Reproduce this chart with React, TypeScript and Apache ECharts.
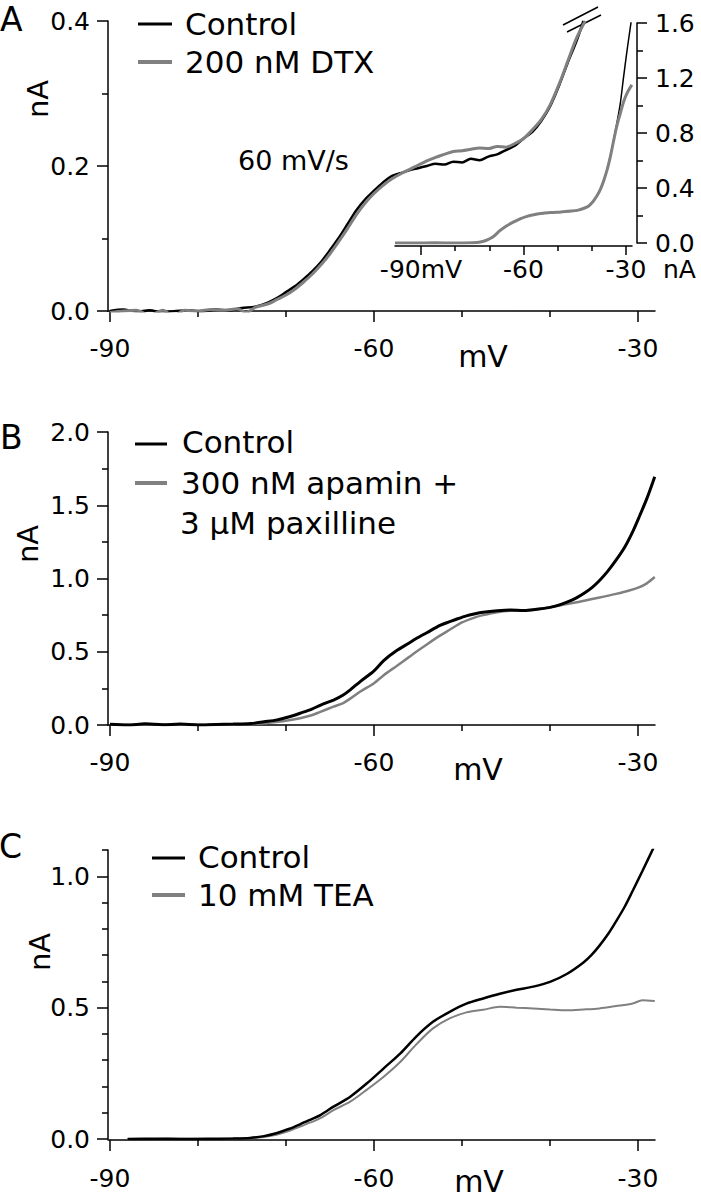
import React, { useEffect, useRef } from "react";
import * as echarts from "echarts";

// ---------- data (mV, nA) ----------
const A_CONTROL: [number, number][] = [
  [-90.0, 0.0], [-88.5, 0.002], [-87, -0.001], [-85.5, 0.001], [-84, -0.002], [-82.5, 0.0], [-81, 0.001],
  [-79.5, -0.001], [-78, 0.002], [-76.5, 0.001], [-75, 0.004], [-73.5, 0.006], [-72, 0.012], [-71, 0.018],
  [-70, 0.026], [-69, 0.034], [-68, 0.044], [-67, 0.055], [-66, 0.068], [-65, 0.084], [-64, 0.101],
  [-63, 0.12], [-62, 0.139], [-61, 0.154], [-60, 0.166], [-59, 0.177], [-58, 0.186], [-57, 0.19],
  [-56, 0.194], [-55, 0.197], [-54, 0.2], [-53, 0.203], [-52, 0.202], [-51, 0.206], [-50, 0.205],
  [-49, 0.21], [-48, 0.208], [-47, 0.213], [-46, 0.216], [-45, 0.222], [-44, 0.228], [-43, 0.238],
  [-42, 0.247], [-41, 0.262], [-40, 0.282], [-39, 0.31], [-38, 0.342], [-37, 0.372], [-36.2, 0.4],
];
const A_DTX: [number, number][] = [
  [-90.0, -0.002], [-88.5, 0.0], [-87, 0.001], [-85.5, -0.006], [-84, 0.001], [-82.8, -0.007], [-81.5, 0.001],
  [-80, 0.0], [-78.5, 0.002], [-77, 0.001], [-75.5, 0.003], [-74.5, -0.002], [-73.5, 0.005], [-72, 0.01],
  [-71, 0.016], [-70, 0.022], [-69, 0.03], [-68, 0.04], [-67, 0.051], [-66, 0.064], [-65, 0.079],
  [-64, 0.096], [-63, 0.114], [-62, 0.133], [-61, 0.149], [-60, 0.162], [-59, 0.173], [-58, 0.182],
  [-57, 0.189], [-56, 0.195], [-55, 0.201], [-54, 0.207], [-53, 0.212], [-52, 0.216], [-51, 0.22],
  [-50, 0.221], [-49, 0.223], [-48, 0.225], [-47, 0.224], [-46, 0.227], [-45, 0.226], [-44, 0.231],
  [-43, 0.238], [-42, 0.25], [-41, 0.264], [-40, 0.284], [-39, 0.312], [-38, 0.344], [-37, 0.376], [-36.0, 0.4],
];
const INSET_CONTROL: [number, number][] = [
  [-97.6, 0.0], [-92, 0.001], [-86, 0.0], [-80, 0.001], [-75, 0.002], [-73, 0.006], [-71, 0.02], [-69, 0.045],
  [-67, 0.09], [-65, 0.125], [-63, 0.152], [-61, 0.176], [-59, 0.193], [-57, 0.205], [-55, 0.213],
  [-52, 0.22], [-49, 0.225], [-46, 0.231], [-44, 0.238], [-42.5, 0.25], [-41, 0.268], [-39.7, 0.3],
  [-38.5, 0.345], [-37.5, 0.395], [-36.5, 0.46], [-35.5, 0.54], [-34.7, 0.62], [-33.7, 0.74],
  [-32.7, 0.87], [-31.7, 1.01], [-30.8, 1.19], [-29.7, 1.4], [-28.5, 1.61],
];
const INSET_DTX: [number, number][] = [
  [-97.6, 0.0], [-92, 0.0], [-86, 0.001], [-80, 0.0], [-75, 0.002], [-73, 0.005], [-71, 0.018], [-69, 0.043],
  [-67, 0.088], [-65, 0.124], [-63, 0.152], [-61, 0.176], [-59, 0.194], [-57, 0.206], [-55, 0.214],
  [-52, 0.221], [-49, 0.226], [-46, 0.232], [-44, 0.239], [-42.5, 0.251], [-41, 0.268], [-39.7, 0.3],
  [-38.5, 0.343], [-37.5, 0.39], [-36.5, 0.455], [-35.5, 0.535], [-34.7, 0.615], [-33.7, 0.735],
  [-32.7, 0.85], [-31.7, 0.94], [-30.8, 1.02], [-29.7, 1.09], [-28.3, 1.15],
];
const B_CONTROL: [number, number][] = [
  [-90, 0.005], [-88, 0.0], [-86, 0.008], [-84, 0.002], [-82, 0.006], [-80, 0.0], [-78, 0.004], [-76, 0.006],
  [-74, 0.01], [-72.5, 0.022], [-71, 0.035], [-69.5, 0.058], [-68.4, 0.08], [-67, 0.11], [-66, 0.138],
  [-64.6, 0.17], [-63.5, 0.205], [-62.7, 0.24], [-61.5, 0.3], [-60, 0.37], [-58.9, 0.44], [-57.5, 0.505],
  [-56, 0.56], [-55.2, 0.59], [-54, 0.63], [-52.5, 0.68], [-51.4, 0.705], [-50.5, 0.725], [-49.5, 0.745],
  [-48.5, 0.76], [-47.6, 0.77], [-46, 0.78], [-44.5, 0.785], [-43, 0.782], [-41.5, 0.79], [-40, 0.803],
  [-39, 0.818], [-38, 0.84], [-37, 0.868], [-36, 0.905], [-35.2, 0.94], [-34.4, 0.985], [-33.5, 1.045],
  [-32.5, 1.125], [-31.5, 1.215], [-30.6, 1.32], [-29.8, 1.43], [-29, 1.545], [-28.1, 1.695],
];
const B_DRUG: [number, number][] = [
  [-90, 0.003], [-88, 0.001], [-86, 0.004], [-84, 0.002], [-82, 0.003], [-80, 0.001], [-78, 0.003], [-76, 0.004],
  [-74, 0.006], [-72.5, 0.012], [-71.1, 0.02], [-69.5, 0.034], [-68.4, 0.046], [-67, 0.068], [-66.1, 0.09],
  [-64.6, 0.125], [-63.5, 0.15], [-62.7, 0.18], [-61.5, 0.23], [-60, 0.285], [-58.9, 0.34], [-57.5, 0.4],
  [-56, 0.465], [-55.2, 0.5], [-54, 0.55], [-52.5, 0.61], [-51.4, 0.65], [-50, 0.7], [-48.5, 0.735],
  [-47.6, 0.75], [-46, 0.77], [-44.5, 0.78], [-43, 0.782], [-41.5, 0.79], [-40, 0.803], [-38.9, 0.816],
  [-37.9, 0.828], [-36.1, 0.848], [-34.5, 0.868], [-32.5, 0.895], [-31, 0.918], [-29.9, 0.94], [-29, 0.967], [-28.1, 1.01],
];
const C_CONTROL: [number, number][] = [
  [-88, 0.0], [-85, 0.001], [-82, 0.0], [-79, 0.001], [-76, 0.002], [-74.1, 0.004], [-72.5, 0.011],
  [-71.1, 0.022], [-69.7, 0.038], [-68.4, 0.056], [-67.2, 0.074], [-66.1, 0.091], [-64.6, 0.123],
  [-62.7, 0.161], [-60.8, 0.212], [-58.9, 0.269], [-57.0, 0.326], [-55.2, 0.39], [-53.3, 0.446],
  [-51.4, 0.484], [-49.5, 0.515], [-47.6, 0.535], [-45.7, 0.553], [-43.8, 0.568], [-41.9, 0.58],
  [-40.0, 0.598], [-38.1, 0.628], [-36.2, 0.672], [-35.3, 0.7], [-34.4, 0.735], [-33.4, 0.78],
  [-32.5, 0.828], [-31.5, 0.885], [-30.6, 0.945], [-29.5, 1.02], [-28.1, 1.118],
];
const C_TEA: [number, number][] = [
  [-88, 0.0], [-85, 0.0], [-82, 0.001], [-79, 0.0], [-76, 0.002], [-74.1, 0.003], [-72.5, 0.008],
  [-71.1, 0.016], [-69.7, 0.03], [-68.4, 0.047], [-67.2, 0.063], [-66.1, 0.079], [-64.6, 0.11],
  [-62.7, 0.142], [-60.8, 0.188], [-58.9, 0.237], [-57.0, 0.294], [-55.2, 0.36], [-53.3, 0.421],
  [-51.4, 0.459], [-49.5, 0.482], [-47.6, 0.492], [-45.7, 0.503], [-43.8, 0.5], [-41.9, 0.497],
  [-40.0, 0.493], [-38.1, 0.49], [-36.2, 0.493], [-34.4, 0.497], [-32.5, 0.506], [-30.6, 0.516],
  [-29.5, 0.528], [-28.1, 0.525],
];

// ---------- tick values ----------
const X_MAJOR = [-90, -60, -30];
const X_MINOR = [-80, -70, -50, -40];
const YA_MAJOR = [0, 0.2, 0.4];
const YA_MINOR = [0.1, 0.3];
const YI_MAJOR = [0, 0.4, 0.8, 1.2, 1.6];
const YI_MINOR = [0.2, 0.6, 1.0, 1.4];
const YB_MAJOR = [0, 0.5, 1.0, 1.5, 2.0];
const YB_MINOR = [0.25, 0.75, 1.25, 1.75];
const YC_MAJOR = [0, 0.5, 1.0];
const YC_MINOR = [0.1, 0.2, 0.3, 0.4, 0.6, 0.7, 0.8, 0.9, 1.1];

const FONT = "DejaVu Sans";
const BLACK = "#000000";
const GRAY = "#808080";
const AX = { color: "#000", width: 1.5 };

function xAxes(grid: number, min: number, max: number, majLen: number, minLen: number, margin: number, offset: number, fmt?: (v: number) => string) {
  return [
    {
      type: "value", gridIndex: grid, position: "bottom", min, max, offset,
      axisLine: { show: true, onZero: false, lineStyle: AX },
      axisTick: { show: true, inside: false, length: majLen, customValues: X_MAJOR, lineStyle: AX },
      axisLabel: { show: true, customValues: X_MAJOR, margin, fontFamily: FONT, fontSize: 25, color: "#000", formatter: fmt || ((v: number) => String(v)) },
      splitLine: { show: false },
    },
    {
      type: "value", gridIndex: grid, position: "bottom", min, max, offset,
      axisLine: { show: false, onZero: false },
      axisTick: { show: true, inside: false, length: minLen, customValues: X_MINOR, lineStyle: AX },
      axisLabel: { show: false },
      splitLine: { show: false },
    },
  ];
}

function yAxes(grid: number, min: number, max: number, major: number[], minor: number[], pos: string, majLen: number, minLen: number, margin: number, offset: number) {
  return [
    {
      type: "value", gridIndex: grid, position: pos, min, max, offset,
      axisLine: { show: true, onZero: false, lineStyle: AX },
      axisTick: { show: true, inside: false, length: majLen, customValues: major, lineStyle: AX },
      axisLabel: { show: true, customValues: major, margin, fontFamily: FONT, fontSize: 25, color: "#000", formatter: (v: number) => v.toFixed(1) },
      splitLine: { show: false },
    },
    {
      type: "value", gridIndex: grid, position: pos, min, max, offset,
      axisLine: { show: false, onZero: false },
      axisTick: { show: true, inside: false, length: minLen, customValues: minor, lineStyle: AX },
      axisLabel: { show: false },
      splitLine: { show: false },
    },
  ];
}

function line(name: string, data: [number, number][], xi: number, yi: number, color: string, width: number) {
  return {
    type: "line", name, data, xAxisIndex: xi, yAxisIndex: yi, showSymbol: false, symbol: "none",
    smooth: 0.3, lineStyle: { color, width }, itemStyle: { color }, silent: true, clip: true,
  };
}

function txt(text: string, x: number, y: number, size: number, align = "left", rotation = 0) {
  return {
    type: "text", x, y, rotation,
    style: { text, fontFamily: FONT, fontSize: size, fill: "#000", align, verticalAlign: "middle" },
  };
}
function seg(x1: number, y1: number, x2: number, y2: number, color: string, w: number) {
  return { type: "line", shape: { x1, y1, x2, y2 }, style: { stroke: color, lineWidth: w } };
}

export default function App() {
  const ref = useRef<HTMLDivElement>(null);
  useEffect(() => {
    if (!ref.current) return;
    const chart = echarts.init(ref.current, null, { renderer: "svg" });
    const grids = [
      { left: 108, top: 21, width: 547, height: 290 },
      { left: 395, top: 23, width: 237, height: 220 },
      { left: 108, top: 432, width: 547, height: 293 },
      { left: 108, top: 850, width: 547, height: 289 },
    ].map((g) => ({ ...g, containLabel: false, outerBoundsMode: "none", show: false }));

    const xAxis = [
      ...xAxes(0, -90.227, -28.07, 11, 6, 25, 0),
      ...xAxes(1, -97.61, -28.25, 9, 5, 11, 3, (v: number) => (v === -90 ? "-90mV" : String(v))),
      ...xAxes(2, -90.227, -28.07, 11, 6, 25, 0),
      ...xAxes(3, -90.227, -28.07, 11, 6, 26, 1),
    ];
    const yAxis = [
      ...yAxes(0, 0, 0.4, YA_MAJOR, YA_MINOR, "left", 11, 6, 18, 0),
      ...yAxes(1, 0, 1.6, YI_MAJOR, YI_MINOR, "right", 10, 6, 18, 5),
      ...yAxes(2, 0, 2.0, YB_MAJOR, YB_MINOR, "left", 11, 6, 18, 0),
      ...yAxes(3, 0, 1.1, YC_MAJOR, YC_MINOR, "left", 11, 6, 18, 0),
    ];

    const series = [
      line("Control", A_CONTROL, 0, 0, BLACK, 2.5),
      line("200 nM DTX", A_DTX, 0, 0, GRAY, 3),
      line("Control (inset)", INSET_CONTROL, 2, 2, BLACK, 1.5),
      line("200 nM DTX (inset)", INSET_DTX, 2, 2, GRAY, 3),
      line("300 nM apamin + 3 µM paxilline", B_DRUG, 4, 4, GRAY, 2.5),
      line("Control", B_CONTROL, 4, 4, BLACK, 3),
      line("10 mM TEA", C_TEA, 6, 6, GRAY, 2),
      line("Control", C_CONTROL, 6, 6, BLACK, 2.5),
    ];

    const graphic = [
      // panel letters
      txt("A", 0, 19, 33),
      txt("B", 0, 437, 33),
      txt("C", -1, 846, 33),
      // y titles
      txt("nA", 38, 99, 29, "center", Math.PI / 2),
      txt("nA", 28, 544, 29, "center", Math.PI / 2),
      txt("nA", 40, 952, 29, "center", Math.PI / 2),
      // x titles
      txt("mV", 483, 356, 30, "center"),
      txt("mV", 478, 769, 30, "center"),
      txt("mV", 479, 1181, 30, "center"),
      // annotations
      txt("60 mV/s", 238, 160, 27),
      txt("nA", 663, 269, 25),
      // break marks
      seg(563, 25, 598, 7, BLACK, 1.5),
      seg(567, 32, 601, 15, BLACK, 1.5),
      // legend A
      seg(138, 24, 172, 24, BLACK, 3),
      seg(138, 62, 172, 62, GRAY, 4),
      txt("Control", 185, 24, 31),
      txt("200 nM DTX", 185, 62, 31),
      // legend B
      seg(135, 444, 167, 444, BLACK, 3),
      seg(135, 483, 167, 483, GRAY, 4),
      txt("Control", 182, 442, 31),
      txt("300 nM apamin +", 181, 483, 31),
      txt("3 µM paxilline", 180, 523, 31),
      // legend C
      seg(152, 858, 185, 858, BLACK, 3),
      seg(152, 895, 185, 895, GRAY, 4),
      txt("Control", 198, 857, 31),
      txt("10 mM TEA", 198, 895, 31),
    ];

    chart.setOption({
      animation: false,
      backgroundColor: "#ffffff",
      textStyle: { fontFamily: FONT },
      grid: grids,
      xAxis,
      yAxis,
      series,
      graphic,
    });
    return () => chart.dispose();
  }, []);

  return (
    <div
      ref={ref}
      style={{ position: "absolute", left: 0, top: 0, width: 701, height: 1199, background: "#fff" }}
    />
  );
}
